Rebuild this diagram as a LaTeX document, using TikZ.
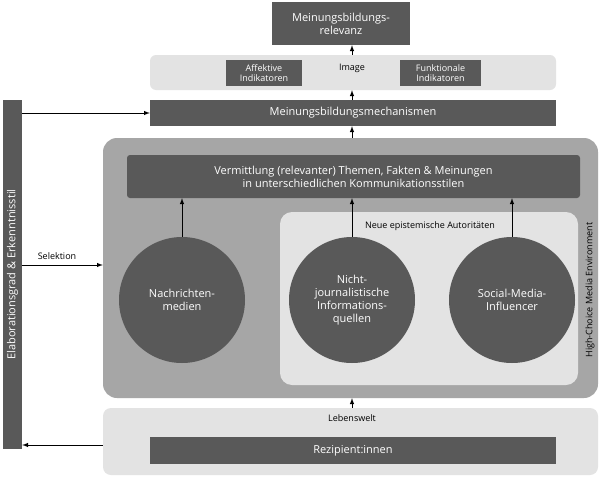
\documentclass[tikz,border=0pt]{standalone}
\usepackage{fontspec}
\setmainfont{Open Sans}
\begin{document}
\begin{tikzpicture}[x=1pt,y=-1pt,
  dark/.style={fill=dk,draw=none,text=white,font=\fontsize{11}{13}\selectfont,align=center},
  arr/.style={-latex,line width=1pt},
  lab/.style={font=\fontsize{9}{10.5}\selectfont,align=center}]
\definecolor{dk}{HTML}{595959}
\definecolor{md}{HTML}{A6A6A6}
\definecolor{lt}{HTML}{E3E3E3}
\useasboundingbox (0,0) rectangle (605,479);
\fill[white] (0,0) rectangle (605,479);
% shapes
\node[dark,minimum width=138,minimum height=43,inner sep=0] (top) at (341,23.5) {Meinungsbildungs-\\relevanz};
\node[fill=lt,rounded corners=6,minimum width=406,minimum height=35,inner sep=0] (img) at (353,72.5) {};
\node[dark,font=\fontsize{9}{10.5}\selectfont,minimum width=76,minimum height=26,inner sep=0] (aff) at (264,73) {Affektive\\Indikatoren};
\node[lab] (imgt) at (352,68) {Image};
\node[dark,font=\fontsize{9}{10.5}\selectfont,minimum width=81,minimum height=26,inner sep=0] (fun) at (440.5,73) {Funktionale\\Indikatoren};
\node[dark,minimum width=406,minimum height=26,inner sep=0] (mech) at (353,113) {Meinungsbildungsmechanismen};
\node[dark,minimum width=19,minimum height=349,inner sep=0] (left) at (12.5,274.5) {};
\node[rotate=90,text=white,font=\fontsize{11}{13}\selectfont] (lt) at (12.5,274.5) {Elaborationsgrad \& Erkenntnisstil};
\node[fill=md,rounded corners=14,minimum width=495,minimum height=260,inner sep=0] (env) at (350.5,268) {};
\node[rotate=90,font=\fontsize{9}{10.5}\selectfont] (envt) at (590,290) {High-Choice Media Environment};
\node[dark,rounded corners=3,minimum width=453,minimum height=43,inner sep=0] (verm) at (353.5,176.5) {Vermittlung (relevanter) Themen, Fakten \& Meinungen\\in unterschiedlichen Kommunikationsstilen};
\node[fill=lt,rounded corners=12,minimum width=298,minimum height=173,inner sep=0] (neu) at (429,298.5) {};
\node[lab] (neut) at (430,226) {Neue epistemische Autoritäten};
\node[circle,dark,minimum size=126,inner sep=0] (c1) at (182,300) {Nachrichten-\\medien};
\node[circle,dark,minimum size=126,inner sep=0] (c2) at (352,300) {Nicht-\\journalistische\\Informations-\\quellen};
\node[circle,dark,minimum size=126,inner sep=0] (c3) at (512,300) {Social-Media-\\Influencer};
\node[fill=lt,rounded corners=8,minimum width=495,minimum height=67,inner sep=0] (leb) at (350.5,441.5) {};
\node[lab] (lebt) at (352,418) {Lebenswelt};
\node[dark,minimum width=406,minimum height=27,inner sep=0] (rez) at (353,450.5) {Rezipient:innen};
\node[lab] (sel) at (57,256) {Selektion};
% arrows
\draw[arr] (img.north -| top.south) ++(11,0) coordinate (a1) -- (a1 |- top.south);
\draw[arr] (mech.north -| imgt) -- (imgt |- img.south);
\draw[arr] (env.north -| imgt) -- (imgt |- mech.south);
\draw[arr] (c1.north) -- (c1 |- verm.south);
\draw[arr] (c2.north) -- (c2 |- verm.south);
\draw[arr] (c3.north) -- (c3 |- verm.south);
\draw[arr] (leb.north -| imgt) -- (imgt |- env.south);
\draw[arr] (left.east |- mech) -- (mech.west);
\draw[arr] (left.east |- 0,265) -- (env.west |- 0,265);
\draw[arr] (leb.west |- 0,445) -- (left.east |- 0,445);
\end{tikzpicture}
\end{document}
